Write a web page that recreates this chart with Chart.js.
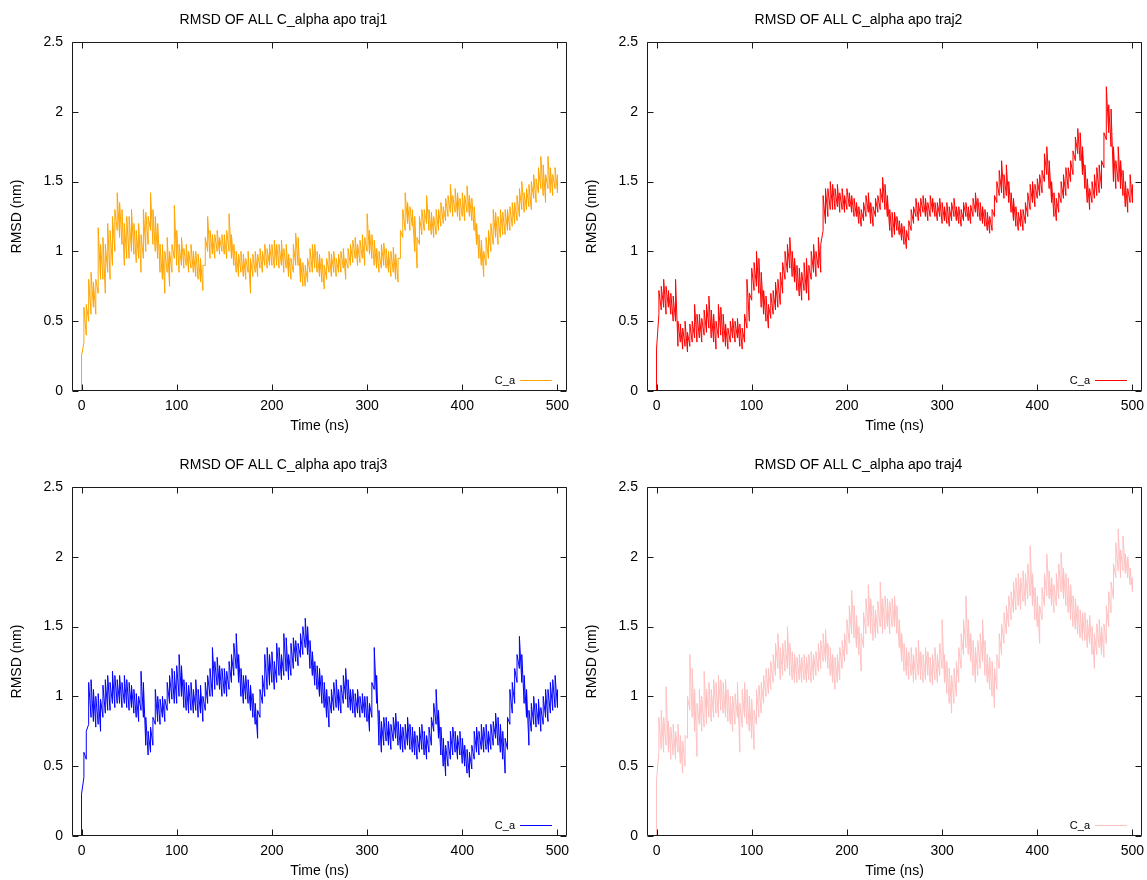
<!DOCTYPE html>
<html>
<head>
<meta charset="utf-8">
<script src="https://cdn.jsdelivr.net/npm/chart.js@4.4.1/dist/chart.umd.min.js"></script>
<style>
  html, body { margin: 0; padding: 0; background: #fff; }
  #wrap { position: relative; width: 1147px; height: 880px; overflow: hidden; background: #fff; }
  #wrap canvas { position: absolute; }
</style>
</head>
<body>
<div id="wrap">
  <canvas id="c1" width="572" height="435" style="left:0px;top:0px"></canvas>
  <canvas id="c2" width="572" height="435" style="left:575px;top:0px"></canvas>
  <canvas id="c3" width="572" height="435" style="left:0px;top:445px"></canvas>
  <canvas id="c4" width="572" height="435" style="left:575px;top:445px"></canvas>
</div>
<script>
// ---- data: time (ns) and the low / high RMSD (nm) read in each 2.5 ns slot ----
const time = [
  0, 2.5, 5, 7.5, 10, 12.5, 15, 17.5, 20, 22.5, 25, 27.5, 30, 32.5, 35, 37.5, 40, 42.5, 45, 47.5,
  50, 52.5, 55, 57.5, 60, 62.5, 65, 67.5, 70, 72.5, 75, 77.5, 80, 82.5, 85, 87.5, 90, 92.5, 95, 97.5,
  100, 102.5, 105, 107.5, 110, 112.5, 115, 117.5, 120, 122.5, 125, 127.5, 130, 132.5, 135, 137.5, 140, 142.5, 145, 147.5,
  150, 152.5, 155, 157.5, 160, 162.5, 165, 167.5, 170, 172.5, 175, 177.5, 180, 182.5, 185, 187.5, 190, 192.5, 195, 197.5,
  200, 202.5, 205, 207.5, 210, 212.5, 215, 217.5, 220, 222.5, 225, 227.5, 230, 232.5, 235, 237.5, 240, 242.5, 245, 247.5,
  250, 252.5, 255, 257.5, 260, 262.5, 265, 267.5, 270, 272.5, 275, 277.5, 280, 282.5, 285, 287.5, 290, 292.5, 295, 297.5,
  300, 302.5, 305, 307.5, 310, 312.5, 315, 317.5, 320, 322.5, 325, 327.5, 330, 332.5, 335, 337.5, 340, 342.5, 345, 347.5,
  350, 352.5, 355, 357.5, 360, 362.5, 365, 367.5, 370, 372.5, 375, 377.5, 380, 382.5, 385, 387.5, 390, 392.5, 395, 397.5,
  400, 402.5, 405, 407.5, 410, 412.5, 415, 417.5, 420, 422.5, 425, 427.5, 430, 432.5, 435, 437.5, 440, 442.5, 445, 447.5,
  450, 452.5, 455, 457.5, 460, 462.5, 465, 467.5, 470, 472.5, 475, 477.5, 480, 482.5, 485, 487.5, 490, 492.5, 495, 497.5, 500
];

const traj1Lo = [
  0, 0.35, 0.4, 0.5, 0.55, 0.6, 0.55, 0.7, 0.8, 0.8, 0.7, 0.85, 0.8, 0.9, 1.0, 1.15, 1.1, 1.05, 0.9, 0.95,
  0.95, 1.0, 0.98, 0.92, 0.95, 0.85, 0.95, 1.0, 1.05, 1.15, 1.05, 1.0, 0.95, 0.85, 0.8, 0.7, 0.85, 0.75, 0.85, 0.95,
  0.9, 0.85, 0.9, 0.88, 0.9, 0.85, 0.88, 0.85, 0.82, 0.8, 0.78, 0.72, 0.9, 1.0, 0.95, 0.98, 0.95, 1.0, 0.98, 1.0,
  0.98, 0.95, 1.0, 0.95, 0.9, 0.85, 0.82, 0.85, 0.82, 0.8, 0.85, 0.7, 0.82, 0.85, 0.82, 0.88, 0.85, 0.9, 0.88, 0.9,
  0.9, 0.88, 0.9, 0.88, 0.9, 0.85, 0.88, 0.82, 0.8, 0.85, 0.9, 0.9, 0.78, 0.75, 0.75, 0.78, 0.85, 0.85, 0.88, 0.85,
  0.82, 0.78, 0.73, 0.8, 0.85, 0.82, 0.85, 0.82, 0.85, 0.85, 0.88, 0.8, 0.88, 0.9, 0.92, 0.95, 0.9, 0.92, 0.95, 0.9,
  1.0, 0.98, 0.95, 0.9, 0.88, 0.85, 0.88, 0.9, 0.88, 0.85, 0.82, 0.85, 0.8, 0.78, 0.95, 1.1, 1.15, 1.2, 1.15, 1.18,
  1.0, 0.88, 1.05, 1.12, 1.15, 1.2, 1.15, 1.12, 1.1, 1.12, 1.15, 1.18, 1.2, 1.22, 1.25, 1.28, 1.25, 1.28, 1.25, 1.22,
  1.25, 1.22, 1.28, 1.25, 1.22, 1.15, 1.05, 0.95, 0.9, 0.82, 0.9, 0.95, 1.0, 1.05, 1.1, 1.05, 1.1, 1.12, 1.12, 1.15,
  1.15, 1.18, 1.2, 1.22, 1.25, 1.3, 1.28, 1.3, 1.32, 1.3, 1.38, 1.35, 1.42, 1.45, 1.4, 1.35, 1.45, 1.42, 1.4, 1.45, 1.42
];
const traj1Hi = [
  0.25, 0.6, 0.62, 0.8, 0.85, 0.78, 0.8, 1.17, 1.05, 1.1, 1.05, 1.2, 1.15, 1.25, 1.3, 1.42, 1.35, 1.3, 1.2, 1.25,
  1.25, 1.3, 1.2, 1.15, 1.2, 1.12, 1.3, 1.28, 1.25, 1.42, 1.3, 1.25, 1.2, 1.05, 1.05, 1.0, 1.1, 1.0, 1.05, 1.33,
  1.15, 1.05, 1.1, 1.02, 1.05, 1.0, 1.05, 1.0, 1.0, 0.98, 0.95, 0.9, 1.1, 1.25, 1.15, 1.12, 1.12, 1.15, 1.1, 1.12,
  1.12, 1.15, 1.27, 1.12, 1.05, 1.0, 0.98, 1.0, 0.98, 0.95, 1.0, 0.95, 0.98, 1.0, 0.98, 1.02, 1.0, 1.05, 1.02, 1.05,
  1.05, 1.08, 1.05, 1.05, 1.08, 1.02, 1.05, 0.98, 0.95, 1.05, 1.13, 1.1, 0.95, 0.92, 0.9, 0.95, 1.02, 1.05, 1.05, 1.0,
  0.98, 0.95, 0.9, 0.95, 1.0, 0.98, 1.0, 0.95, 0.98, 1.0, 1.02, 0.95, 1.02, 1.05, 1.08, 1.1, 1.05, 1.08, 1.12, 1.1,
  1.27, 1.15, 1.12, 1.08, 1.02, 1.0, 1.05, 1.06, 1.02, 1.0, 1.0, 1.03, 0.98, 0.95, 1.15, 1.3, 1.42, 1.35, 1.32, 1.3,
  1.25, 1.1, 1.25, 1.3, 1.3, 1.4, 1.3, 1.28, 1.25, 1.3, 1.3, 1.35, 1.32, 1.38, 1.4, 1.48, 1.4, 1.45, 1.42, 1.38,
  1.42, 1.4, 1.47, 1.4, 1.38, 1.32, 1.2, 1.12, 1.08, 1.0, 1.1, 1.15, 1.2, 1.3, 1.28, 1.25, 1.3, 1.28, 1.3, 1.3,
  1.32, 1.35, 1.35, 1.4, 1.45, 1.5, 1.42, 1.45, 1.48, 1.5, 1.55, 1.52, 1.6, 1.68, 1.62, 1.55, 1.68, 1.6, 1.55, 1.6, 1.55
];

const traj2Lo = [
  0, 0.55, 0.58, 0.6, 0.55, 0.6, 0.55, 0.5, 0.5, 0.32, 0.35, 0.3, 0.32, 0.28, 0.32, 0.35, 0.38, 0.35, 0.38, 0.35,
  0.4, 0.42, 0.45, 0.38, 0.35, 0.3, 0.38, 0.4, 0.35, 0.32, 0.3, 0.35, 0.38, 0.35, 0.38, 0.32, 0.3, 0.35, 0.45, 0.5,
  0.65, 0.72, 0.75, 0.7, 0.6, 0.55, 0.5, 0.45, 0.52, 0.55, 0.58, 0.6, 0.62, 0.7, 0.8, 0.85, 0.88, 0.82, 0.78, 0.72,
  0.68, 0.65, 0.72, 0.7, 0.65, 0.8, 0.85, 0.82, 0.88, 0.85, 1.15, 1.2, 1.25, 1.3, 1.3, 1.3, 1.32, 1.28, 1.3, 1.28,
  1.3, 1.32, 1.28, 1.25, 1.25, 1.2, 1.18, 1.22, 1.25, 1.28, 1.2, 1.18, 1.25, 1.28, 1.3, 1.35, 1.3, 1.25, 1.15, 1.1,
  1.12, 1.15, 1.12, 1.08, 1.05, 1.02, 1.08, 1.15, 1.2, 1.25, 1.22, 1.25, 1.28, 1.25, 1.22, 1.25, 1.28, 1.25, 1.22, 1.25,
  1.2, 1.22, 1.2, 1.18, 1.22, 1.25, 1.22, 1.2, 1.18, 1.22, 1.25, 1.22, 1.2, 1.25, 1.28, 1.25, 1.22, 1.2, 1.18, 1.15,
  1.13, 1.15, 1.25, 1.35, 1.4, 1.42, 1.38, 1.4, 1.35, 1.28, 1.22, 1.18, 1.15, 1.18, 1.15, 1.2, 1.25, 1.3, 1.35, 1.32,
  1.38, 1.4, 1.42, 1.5, 1.55, 1.45, 1.35, 1.25, 1.22, 1.28, 1.35, 1.38, 1.4, 1.45, 1.5, 1.55, 1.65, 1.7, 1.65, 1.55,
  1.45, 1.35, 1.3, 1.35, 1.38, 1.4, 1.42, 1.45, 1.6, 1.8, 1.85, 1.75, 1.5, 1.45, 1.5, 1.45, 1.4, 1.32, 1.28, 1.35, 1.35
];
const traj2Hi = [
  0.3, 0.72, 0.75, 0.8, 0.75, 0.72, 0.7, 0.68, 0.8, 0.5, 0.48, 0.45, 0.5, 0.42, 0.48, 0.5, 0.62, 0.55, 0.55, 0.52,
  0.58, 0.62, 0.68, 0.58, 0.55, 0.5, 0.62, 0.6, 0.55, 0.48, 0.45, 0.5, 0.52, 0.5, 0.52, 0.48, 0.45, 0.55, 0.8, 0.7,
  0.88, 0.92, 1.0, 0.95, 0.85, 0.72, 0.68, 0.62, 0.7, 0.72, 0.78, 0.8, 0.85, 0.92, 1.0, 1.05, 1.1, 1.0, 0.95, 0.9,
  0.88, 0.85, 0.92, 0.95, 0.9, 1.0, 1.05, 1.0, 1.1, 1.05, 1.4, 1.45, 1.45, 1.5, 1.48, 1.45, 1.48, 1.42, 1.45, 1.4,
  1.45, 1.42, 1.4, 1.38, 1.35, 1.32, 1.3, 1.35, 1.4, 1.42, 1.35, 1.32, 1.38, 1.4, 1.45, 1.53, 1.48, 1.4, 1.3, 1.28,
  1.28, 1.25, 1.22, 1.2, 1.18, 1.15, 1.22, 1.3, 1.32, 1.38, 1.35, 1.38, 1.4, 1.38, 1.35, 1.4, 1.38, 1.35, 1.35, 1.38,
  1.35, 1.32, 1.35, 1.32, 1.35, 1.38, 1.32, 1.32, 1.3, 1.35, 1.35, 1.32, 1.33, 1.38, 1.42, 1.38, 1.35, 1.32, 1.3, 1.28,
  1.25, 1.3, 1.4, 1.5, 1.58, 1.65, 1.55, 1.62, 1.5, 1.42, 1.38, 1.32, 1.28, 1.3, 1.3, 1.35, 1.42, 1.48, 1.5, 1.48,
  1.52, 1.55, 1.58, 1.7, 1.75, 1.65, 1.5, 1.42, 1.38, 1.42, 1.5, 1.55, 1.6, 1.6, 1.65, 1.72, 1.82, 1.88, 1.85, 1.75,
  1.62, 1.52, 1.45, 1.5, 1.55, 1.6, 1.62, 1.65, 1.85, 2.18, 2.05, 2.02, 1.75, 1.65, 1.75, 1.65, 1.58, 1.5, 1.45, 1.55, 1.48
];

const traj3Lo = [
  0, 0.42, 0.55, 0.8, 0.85, 0.82, 0.78, 0.8, 0.75, 0.85, 0.88, 0.9, 0.9, 0.95, 0.92, 0.95, 0.95, 0.92, 0.95, 0.92,
  0.9, 0.92, 0.88, 0.85, 0.82, 0.9, 0.85, 0.65, 0.58, 0.6, 0.65, 0.8, 0.82, 0.8, 0.85, 0.82, 0.9, 0.95, 0.98, 0.95,
  0.95, 1.0, 1.0, 0.92, 0.9, 0.88, 0.9, 0.88, 0.9, 0.85, 0.88, 0.82, 0.9, 0.95, 1.0, 1.0, 1.05, 1.08, 1.05, 1.0,
  1.02, 1.0, 1.05, 1.1, 1.15, 1.2, 1.1, 1.0, 0.95, 0.98, 0.95, 0.9, 0.85, 0.8, 0.7, 0.85, 0.95, 1.0, 1.05, 1.08,
  1.1, 1.05, 1.1, 1.15, 1.12, 1.15, 1.18, 1.12, 1.15, 1.2, 1.25, 1.22, 1.28, 1.3, 1.35, 1.3, 1.2, 1.15, 1.08, 1.05,
  1.0, 0.95, 0.92, 0.85, 0.78, 0.88, 0.9, 0.92, 0.9, 0.88, 0.95, 0.98, 0.92, 0.9, 0.88, 0.85, 0.88, 0.85, 0.88, 0.85,
  0.82, 0.75, 0.85, 1.05, 0.95, 0.65, 0.6, 0.65, 0.68, 0.65, 0.62, 0.68, 0.7, 0.65, 0.62, 0.6, 0.62, 0.65, 0.62, 0.6,
  0.58, 0.55, 0.6, 0.62, 0.58, 0.55, 0.6, 0.65, 0.75, 0.8, 0.7, 0.58, 0.5, 0.43, 0.5, 0.55, 0.58, 0.6, 0.55, 0.58,
  0.52, 0.5, 0.45, 0.42, 0.48, 0.55, 0.6, 0.58, 0.62, 0.6, 0.62, 0.6, 0.62, 0.65, 0.7, 0.65, 0.6, 0.55, 0.45, 0.62,
  0.8, 0.88, 0.95, 1.1, 1.2, 1.1, 0.95, 0.85, 0.65, 0.75, 0.8, 0.78, 0.8, 0.75, 0.8, 0.85, 0.82, 0.88, 0.9, 0.92, 0.92
];
const traj3Hi = [
  0.3, 0.6, 0.75, 1.1, 1.12, 1.05, 1.0, 1.02, 0.98, 1.08, 1.12, 1.15, 1.1, 1.18, 1.15, 1.12, 1.15, 1.1, 1.15, 1.12,
  1.1, 1.08, 1.05, 1.02, 1.0, 1.18, 1.1, 0.85, 0.75, 0.78, 0.85, 1.05, 1.0, 0.98, 1.0, 0.98, 1.1, 1.15, 1.2, 1.18,
  1.22, 1.3, 1.22, 1.12, 1.1, 1.08, 1.1, 1.05, 1.12, 1.05, 1.08, 1.0, 1.1, 1.15, 1.2, 1.35, 1.25, 1.28, 1.22, 1.2,
  1.2, 1.18, 1.25, 1.3, 1.38, 1.45, 1.3, 1.2, 1.15, 1.15, 1.12, 1.08, 1.02, 0.95, 0.9, 1.05, 1.15, 1.3, 1.35, 1.3,
  1.32, 1.25, 1.38, 1.35, 1.3, 1.45, 1.42, 1.3, 1.38, 1.42, 1.4, 1.38, 1.45, 1.5, 1.56, 1.5, 1.4, 1.32, 1.25, 1.22,
  1.2, 1.15, 1.1, 1.05, 1.0, 1.05, 1.1, 1.12, 1.05, 1.08, 1.15, 1.2, 1.12, 1.05, 1.05, 1.02, 1.05, 1.0, 1.02, 1.0,
  1.0, 0.95, 1.1, 1.35, 1.15, 0.9, 0.82, 0.85, 0.85, 0.82, 0.8, 0.85, 0.88, 0.82, 0.8, 0.78, 0.8, 0.85, 0.8, 0.78,
  0.75, 0.72, 0.78, 0.8, 0.75, 0.72, 0.78, 0.85, 0.95, 1.05, 0.9, 0.78, 0.7, 0.65, 0.68, 0.75, 0.78, 0.75, 0.72, 0.75,
  0.7, 0.65, 0.62, 0.6, 0.65, 0.75, 0.78, 0.75, 0.8, 0.78, 0.8, 0.75, 0.8, 0.82, 0.88, 0.85, 0.8, 0.75, 0.7, 0.85,
  1.05, 1.1, 1.2, 1.3, 1.43, 1.3, 1.15, 1.05, 0.9, 0.95, 1.0, 0.95, 0.98, 0.92, 1.0, 1.05, 1.05, 1.1, 1.12, 1.15, 1.05
];

const traj4Lo = [
  0, 0.6, 0.62, 0.6, 0.65, 0.6, 0.55, 0.58, 0.55, 0.6, 0.52, 0.45, 0.5, 0.7, 0.9, 0.85, 0.75, 0.57, 0.8, 0.75,
  0.78, 0.8, 0.85, 0.82, 0.85, 0.88, 0.85, 0.9, 0.88, 0.85, 0.82, 0.8, 0.75, 0.8, 0.85, 0.6, 0.78, 0.85, 0.8, 0.75,
  0.7, 0.62, 0.8, 0.85, 0.88, 0.95, 1.0, 1.02, 1.05, 1.1, 1.15, 1.2, 1.12, 1.15, 1.18, 1.2, 1.15, 1.12, 1.1, 1.1,
  1.12, 1.1, 1.12, 1.1, 1.12, 1.1, 1.12, 1.15, 1.18, 1.2, 1.25, 1.25, 1.2, 1.15, 1.1, 1.05, 1.1, 1.12, 1.2, 1.25,
  1.3, 1.38, 1.45, 1.42, 1.35, 1.3, 1.18, 1.35, 1.45, 1.5, 1.45, 1.4, 1.42, 1.45, 1.5, 1.45, 1.48, 1.5, 1.45, 1.5,
  1.5, 1.45, 1.35, 1.25, 1.18, 1.15, 1.12, 1.15, 1.1, 1.12, 1.15, 1.12, 1.1, 1.12, 1.15, 1.1, 1.08, 1.12, 1.1, 1.15,
  1.2, 1.1, 1.02, 0.95, 0.88, 0.95, 1.0, 1.1, 1.2, 1.3, 1.35, 1.3, 1.25, 1.15, 1.1, 1.15, 1.2, 1.25, 1.15, 1.1,
  1.05, 1.0, 0.92, 1.05, 1.2, 1.3, 1.38, 1.45, 1.5, 1.55, 1.6, 1.62, 1.65, 1.62, 1.68, 1.65, 1.7, 1.72, 1.65, 1.55,
  1.5, 1.38, 1.55, 1.65, 1.72, 1.7, 1.65, 1.6, 1.65, 1.7, 1.75, 1.7, 1.65, 1.6, 1.55, 1.5, 1.48, 1.45, 1.42, 1.4,
  1.4, 1.35, 1.38, 1.3, 1.2, 1.3, 1.35, 1.3, 1.28, 1.38, 1.5, 1.6, 1.7, 1.85, 1.9, 1.85, 1.9, 1.88, 1.85, 1.8, 1.75
];
const traj4Hi = [
  0.4, 0.85, 0.9, 0.85, 1.07, 0.82, 0.78, 0.8, 0.75, 0.8, 0.72, 0.68, 0.72, 1.0, 1.3, 1.2, 1.05, 0.95, 1.05, 1.0,
  1.18, 1.05, 1.1, 1.05, 1.12, 1.1, 1.15, 1.12, 1.1, 1.12, 1.05, 1.0, 1.0, 1.02, 1.1, 0.95, 1.05, 1.1, 1.05, 1.0,
  0.98, 0.9, 1.05, 1.08, 1.1, 1.15, 1.2, 1.2, 1.25, 1.3, 1.38, 1.45, 1.35, 1.38, 1.4, 1.5, 1.38, 1.32, 1.3, 1.28,
  1.3, 1.28, 1.3, 1.28, 1.3, 1.32, 1.3, 1.32, 1.38, 1.4, 1.45, 1.48, 1.38, 1.35, 1.3, 1.28, 1.3, 1.35, 1.4, 1.45,
  1.55, 1.65, 1.76, 1.65, 1.58, 1.5, 1.45, 1.6, 1.7, 1.8, 1.7, 1.65, 1.62, 1.68, 1.82, 1.7, 1.72, 1.7, 1.68, 1.7,
  1.72, 1.65, 1.55, 1.45, 1.38, 1.35, 1.32, 1.35, 1.3, 1.35, 1.4, 1.32, 1.3, 1.35, 1.32, 1.28, 1.3, 1.35, 1.3, 1.38,
  1.55, 1.3, 1.25, 1.2, 1.15, 1.2, 1.25, 1.35, 1.45, 1.55, 1.72, 1.55, 1.45, 1.4, 1.35, 1.4, 1.45, 1.55, 1.4, 1.3,
  1.28, 1.25, 1.2, 1.3, 1.45, 1.52, 1.6, 1.65, 1.72, 1.75, 1.82, 1.85, 1.88, 1.85, 1.9, 1.88, 1.95, 2.08, 1.88, 1.78,
  1.72, 1.65, 1.78, 1.88, 2.02, 1.9, 1.85, 1.8, 1.88, 1.95, 2.03, 1.92, 1.88, 1.85, 1.8, 1.72, 1.7, 1.65, 1.62, 1.6,
  1.6, 1.55, 1.58, 1.5, 1.45, 1.52, 1.55, 1.5, 1.52, 1.65, 1.75, 1.82, 1.95, 2.1, 2.2, 2.05, 2.15, 2.02, 2.0, 1.92, 1.85
];

const titles = [
  'RMSD OF ALL C_alpha apo traj1',
  'RMSD OF ALL C_alpha apo traj2',
  'RMSD OF ALL C_alpha apo traj3',
  'RMSD OF ALL C_alpha apo traj4'
];
const seriesLabel = 'C_a';
const xTicks = [0, 100, 200, 300, 400, 500];
const xTickLabels = ['0', '100', '200', '300', '400', '500'];
const yTicks = [0, 0.5, 1, 1.5, 2, 2.5];
const yTickLabels = ['0', '0.5', '1', '1.5', '2', '2.5'];
const xTitle = 'Time (ns)';
const yTitle = 'RMSD (nm)';

// ---- styling ----
const colors = ['#ffa500', '#ff0000', '#0000ff', '#ffc0c0'];
const FONT = "'Liberation Sans', Arial, Helvetica, sans-serif";
Chart.defaults.font.family = FONT;
Chart.defaults.font.size = 14;
Chart.defaults.color = '#000';

const framePlugin = {
  id: 'gnuFrame',
  afterDatasetsDraw(chart) {
    const { ctx, chartArea: a, scales: { x, y } } = chart;
    const L = Math.round(a.left) + 0.5, R = Math.round(a.right) - 0.5;
    const T = Math.round(a.top) + 0.5, B = Math.round(a.bottom) - 0.5;
    ctx.save();
    ctx.strokeStyle = '#1a1a1a';
    ctx.lineWidth = 1;
    ctx.beginPath();
    ctx.rect(L, T, R - L, B - T);
    x.ticks.forEach(t => {
      const px = Math.round(x.getPixelForValue(t.value)) + 0.5;
      ctx.moveTo(px, B); ctx.lineTo(px, B - 6);
      ctx.moveTo(px, T); ctx.lineTo(px, T + 6);
    });
    y.ticks.forEach(t => {
      const py = Math.round(y.getPixelForValue(t.value)) + 0.5;
      ctx.moveTo(L, py); ctx.lineTo(L + 6, py);
      ctx.moveTo(R, py); ctx.lineTo(R - 6, py);
    });
    ctx.stroke();

    // gnuplot-style key inside the bottom-right corner
    const ds = chart.data.datasets[0];
    const ky = Math.round(a.bottom - 11.5) + 0.5;
    ctx.font = '11px ' + FONT;
    ctx.fillStyle = '#000';
    ctx.textAlign = 'right';
    ctx.textBaseline = 'middle';
    ctx.fillText(ds.label, a.right - 52, ky);
    ctx.strokeStyle = ds.borderColor;
    ctx.beginPath();
    ctx.moveTo(a.right - 47, ky);
    ctx.lineTo(a.right - 15, ky);
    ctx.stroke();
    ctx.restore();
  }
};

// each time slot contributes its low and its high reading, so the trace
// sweeps the whole fluctuation band like the dense original trajectory
function tracePoints(lo, hi) {
  const pts = [];
  time.forEach((t, i) => {
    pts.push({ x: t, y: lo[i] });
    pts.push({ x: t, y: hi[i] });
  });
  return pts;
}

function makeChart(id, lo, hi, color, title) {
  return new Chart(document.getElementById(id), {
    type: 'line',
    data: {
      datasets: [{
        label: seriesLabel,
        data: tracePoints(lo, hi),
        borderColor: color,
        backgroundColor: color,
        borderWidth: 1,
        pointRadius: 0,
        tension: 0,
        fill: false
      }]
    },
    options: {
      responsive: false,
      animation: false,
      devicePixelRatio: 1,
      parsing: true,
      layout: { padding: { left: 0, right: 5, top: 0, bottom: 0 } },
      plugins: {
        legend: { display: false },
        tooltip: { enabled: false },
        title: {
          display: true,
          text: title,
          color: '#000',
          font: { family: FONT, size: 14, weight: 'normal' },
          padding: { top: 12, bottom: 13.2 }
        }
      },
      scales: {
        x: {
          type: 'linear',
          bounds: 'data',
          min: -10,
          max: 510,
          grid: { display: false, drawTicks: false },
          border: { display: false },
          afterBuildTicks: s => { s.ticks = xTicks.map(v => ({ value: v })); },
          afterFit: s => { s.height = 44; s.paddingLeft = 0; s.paddingRight = 0; },
          ticks: {
            padding: 7,
            color: '#000',
            autoSkip: false,
            maxRotation: 0,
            font: { family: FONT, size: 14 },
            callback: (v) => xTickLabels[xTicks.indexOf(v)]
          },
          title: {
            display: true,
            text: xTitle,
            color: '#000',
            font: { family: FONT, size: 14 },
            padding: { top: 0, bottom: 0 }
          }
        },
        y: {
          type: 'linear',
          bounds: 'data',
          min: 0,
          max: 2.5,
          grid: { display: false, drawTicks: false },
          border: { display: false },
          afterBuildTicks: s => { s.ticks = yTicks.map(v => ({ value: v })); },
          afterFit: s => { s.width = 72; },
          ticks: {
            padding: 9,
            color: '#000',
            autoSkip: false,
            font: { family: FONT, size: 14 },
            callback: (v) => yTickLabels[yTicks.indexOf(v)]
          },
          title: {
            display: true,
            text: yTitle,
            color: '#000',
            font: { family: FONT, size: 14 },
            padding: { top: 9, bottom: 0 }
          }
        }
      }
    },
    plugins: [framePlugin]
  });
}

makeChart('c1', traj1Lo, traj1Hi, colors[0], titles[0]);
makeChart('c2', traj2Lo, traj2Hi, colors[1], titles[1]);
makeChart('c3', traj3Lo, traj3Hi, colors[2], titles[2]);
makeChart('c4', traj4Lo, traj4Hi, colors[3], titles[3]);
</script>
</body>
</html>
